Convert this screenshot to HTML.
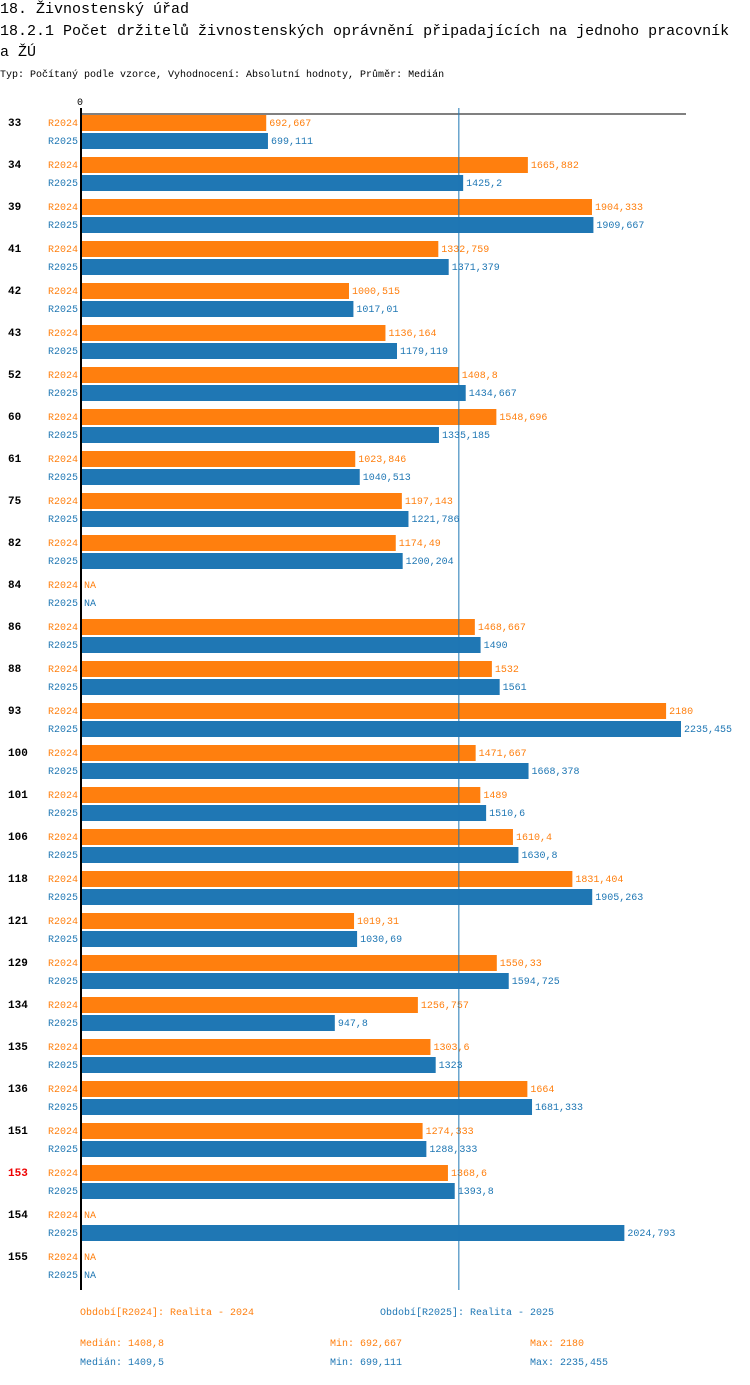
<!DOCTYPE html>
<html><head><meta charset="utf-8"><style>
body{margin:0;background:#fff;font-family:"Liberation Mono",monospace;}
svg text{font-family:"Liberation Mono",monospace;}
</style></head><body>
<svg id="c" width="750" height="1380" xmlns="http://www.w3.org/2000/svg">
<text x="0" y="13" font-size="15">18. Živnostenský úřad</text>
<text x="0" y="35" font-size="15">18.2.1 Počet držitelů živnostenských oprávnění připadajících na jednoho pracovník</text>
<text x="0" y="56" font-size="15">a ŽÚ</text>
<text x="0" y="77" font-size="10">Typ: Počítaný podle vzorce, Vyhodnocení: Absolutní hodnoty, Průměr: Medián</text>
<g id="plot"></g>
</svg>
<script>
const categories=["33","34","39","41","42","43","52","60","61","75","82","84","86","88","93","100","101","106","118","121","129","134","135","136","151","153","154","155"];
const r2024=[692.667,1665.882,1904.333,1332.759,1000.515,1136.164,1408.8,1548.696,1023.846,1197.143,1174.49,null,1468.667,1532,2180,1471.667,1489,1610.4,1831.404,1019.31,1550.33,1256.757,1303.6,1664,1274.333,1368.6,null,null];
const r2025=[699.111,1425.2,1909.667,1371.379,1017.01,1179.119,1434.667,1335.185,1040.513,1221.786,1200.204,null,1490,1561,2235.455,1668.378,1510.6,1630.8,1905.263,1030.69,1594.725,947.8,1323,1681.333,1288.333,1393.8,2024.793,null];
const highlight="153";
const medians=[1408.8,1409.5];
const mins=[692.667,699.111];
const maxs=[2180,2235.455];
const NS="http://www.w3.org/2000/svg";
const g=document.getElementById('plot');
const X0=80,maxV=2235.455,W=601;
const x=v=>X0+v/maxV*W;
const yRow=i=>123+42*i;
const fmt=v=>String(v).replace('.',',');
function el(t,a,txt){const e=document.createElementNS(NS,t);for(const k in a)e.setAttribute(k,a[k]);if(txt!=null)e.textContent=txt;g.appendChild(e);return e;}
const cols=["#ff7f0e","#1f77b4"];
let e=el('line',{x1:80,y1:114,x2:686,y2:114,stroke:'#000','stroke-width':1});


e=el('text',{x:80,y:105,'font-size':10,'text-anchor':'middle'},'0');


const medX=x((medians[0]+medians[1])/2);
categories.forEach((c,i)=>{
  const y=yRow(i);
  let t=el('text',{x:8,y:y+3,'font-size':11,'font-weight':'bold',fill:c===highlight?'#e00':'#000'},c);
  
  
  [r2024,r2025].forEach((s,k)=>{
    const yy=y+18*k, v=s[i], nm=k?'R2025':'R2024';
    let l=el('text',{x:78,y:yy+3,'font-size':10,fill:cols[k],'text-anchor':'end'},nm);
    
    
    if(v==null){
      let n=el('text',{x:84,y:yy+3,'font-size':10,fill:cols[k]},'NA');
      
      
    }else{
      let r=el('rect',{x:X0,y:yy-8,width:x(v)-X0,height:16,fill:cols[k]});
      
      
      let n=el('text',{x:x(v)+3,y:yy+3,'font-size':10,fill:cols[k]},fmt(v));
      
      
    }
  });
});
e=el('line',{x1:medX,y1:108,x2:medX,y2:1290,stroke:'#1f77b4','stroke-width':1});


e=el('line',{x1:81,y1:108,x2:81,y2:1290,stroke:'#000','stroke-width':2});


const leg=[[80,1315,"Období[R2024]: Realita - 2024",0],[380,1315,"Období[R2025]: Realita - 2025",1]];
leg.forEach(a=>{let t=el('text',{x:a[0],y:a[1],'font-size':10,fill:cols[a[3]]},a[2]);

});
[0,1].forEach(k=>{
  const y=1346+19*k;
  [[80,"Medián: "+fmt(medians[k])],[330,"Min: "+fmt(mins[k])],[530,"Max: "+fmt(maxs[k])]].forEach(a=>{
    let t=el('text',{x:a[0],y:y,'font-size':10,fill:cols[k]},a[1]);
    
    
  });
});
</script>
</body></html>
